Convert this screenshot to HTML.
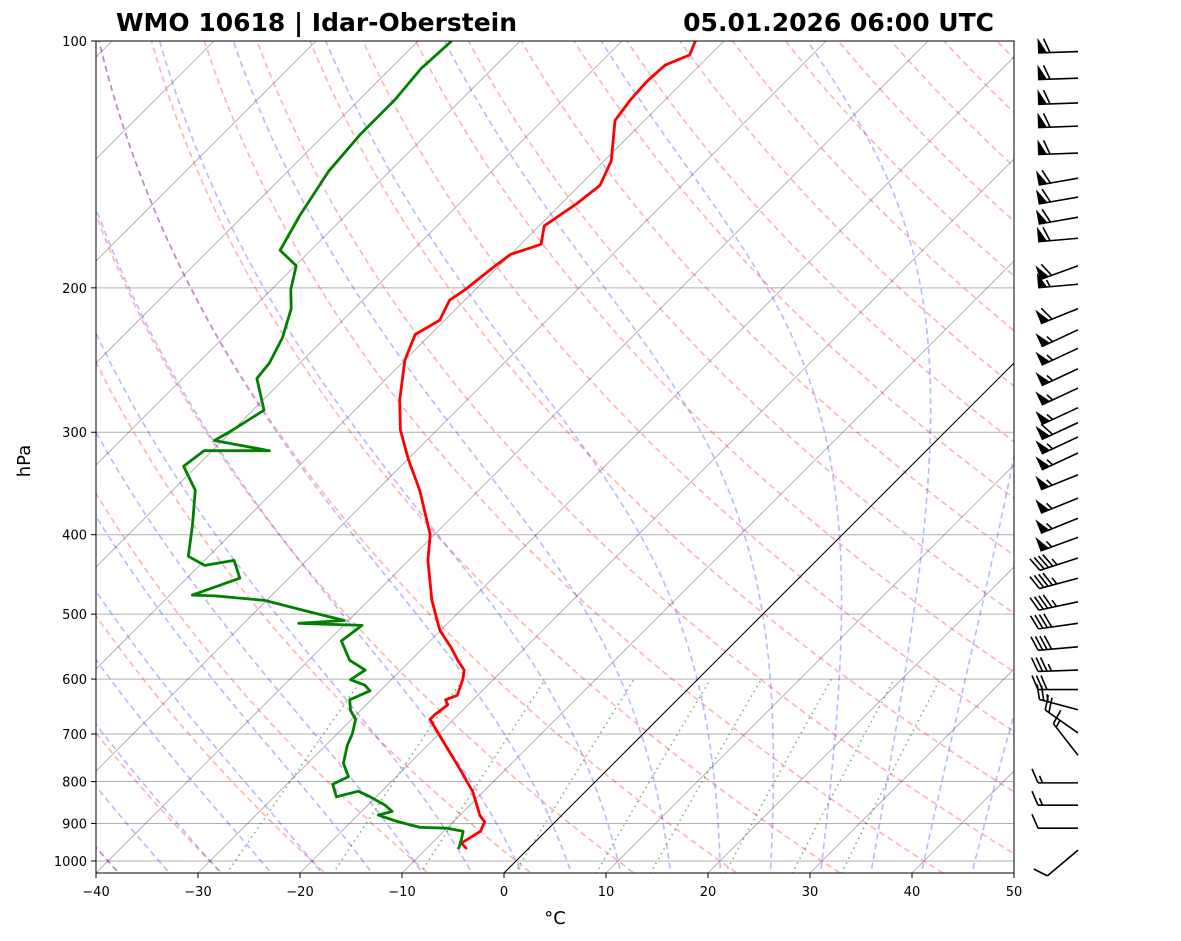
<!DOCTYPE html>
<html><head><meta charset="utf-8">
<style>
body{margin:0;background:#fff;}
svg{display:block;font-family:"DejaVu Sans","Liberation Sans",sans-serif;}
</style></head>
<body>
<svg id="chart" width="1181" height="941" viewBox="0 0 1181 941" xmlns="http://www.w3.org/2000/svg">
<defs><clipPath id="plotclip"><rect x="96" y="41" width="918" height="832"/></clipPath></defs>
<rect width="1181" height="941" fill="#fff"/>
<text x="116" y="31" font-size="25" font-weight="bold" textLength="401" lengthAdjust="spacingAndGlyphs">WMO 10618 | Idar-Oberstein</text>
<text x="994" y="31" font-size="25" font-weight="bold" text-anchor="end">05.01.2026 06:00 UTC</text>
<g id="bg" clip-path="url(#plotclip)"></g>
<g id="series" clip-path="url(#plotclip)"></g>
<rect x="96" y="41" width="918" height="832" fill="none" stroke="#000" stroke-width="1"/>
<g id="axes"></g>
<g id="barbs"></g>
<text x="0" y="0" transform="translate(30,461) rotate(-90)" font-size="18" text-anchor="middle">hPa</text>
<text x="555" y="924" font-size="18" text-anchor="middle">°C</text>
</svg>
<script>
// ---- data ----
const tempP = [967,951,920,896,880,855,822,806,774,722,672,663,645,636,628,601,585,569,550,523,481,430,400,353,324,298,274,245,228,219,207,201,190,182,177,168,158,150,140,125,118,112,107,104,100];
const tempT = [-6.0,-7.1,-6.4,-6.9,-8.0,-9.3,-11.1,-12.2,-14.4,-18.3,-22.3,-22.3,-22.0,-22.7,-22.0,-23.0,-23.8,-25.4,-27.2,-30.1,-33.8,-38.1,-40.4,-45.8,-49.9,-53.6,-56.6,-60.0,-61.5,-60.5,-61.5,-61.0,-60.5,-60.0,-58.0,-59.5,-58.5,-58.0,-59.3,-62.9,-63.4,-63.6,-63.4,-62.0,-62.8];
const dewP = [967,940,920,912,910,895,879,870,855,835,822,835,806,789,760,722,700,672,655,636,620,610,601,585,569,539,516,513,509,497,481,475,474,452,430,436,425,390,353,330,316,316,307,299,282,258,247,230,212,201,188,180,163,144,130,118,108,100];
const dewT = [-6.8,-7.5,-8.1,-10.0,-12.7,-15.5,-18.0,-17.0,-18.3,-20.6,-22.3,-23.9,-25.5,-24.7,-26.5,-27.9,-28.5,-29.6,-31.0,-32.1,-31.0,-32.1,-34.0,-33.5,-36.0,-38.7,-38.2,-44.6,-40.4,-44.6,-50.2,-55.5,-57.8,-54.8,-57.1,-59.5,-62.0,-64.6,-67.8,-71.3,-70.8,-64.4,-70.8,-70.1,-68.9,-72.7,-73.0,-74.2,-76.2,-78.1,-79.9,-83.0,-84.5,-86.0,-86.5,-86.5,-87.0,-86.7];
const barbP = [103,111,119,127,137,147,155,164,174,188,198,212,225,237,251,265,280,292,304,318,338,361,382,403,427,452,483,513,548,585,618,654,698,743,803,855,912,970];
const barbSpd = [60,60,60,60,60,60,60,60,60,60,55,60,55,55,55,55,55,60,55,55,55,55,55,55,45,45,45,40,40,35,30,25,20,15,15,15,10,10];
const barbDir = [268,268,268,268,268,260,260,260,265,250,265,248,245,245,245,245,245,245,245,245,248,248,248,250,252,255,258,262,265,268,270,285,305,322,270,270,270,230];
const xTicks = [-40,-30,-20,-10,0,10,20,30,40,50];
const yTicks = [100,200,300,400,500,600,700,800,900,1000];

// ---- scales ----
const X0=96, X1=1014, Ytop=41, Ybot=873;
const PXT=(X1-X0)/90;
function Y(p){return Ytop+820*Math.log10(p/100);}
function X(T,p){return X0+(T+40)*PXT+(Ybot-Y(p));}
const NS="http://www.w3.org/2000/svg";
function mk(tag,attrs,parent){const e=document.createElementNS(NS,tag);for(const k in attrs)e.setAttribute(k,attrs[k]);parent.appendChild(e);return e;}
function pathFrom(pts){return pts.map((q,i)=>(i?'L':'M')+q[0].toFixed(1)+' '+q[1].toFixed(1)).join(' ');}
const bg=document.getElementById('bg'), series=document.getElementById('series'), axes=document.getElementById('axes'), barbs=document.getElementById('barbs');

yTicks.forEach(p=>{
  const l=mk('line',{x1:X0,x2:X1,y1:Y(p),y2:Y(p),stroke:'#b0b0b0','stroke-width':1},bg);
  
  
});
for(let T=-160;T<=50;T+=10){
  const l=mk('line',{x1:X(T,1050),y1:Y(1050),x2:X(T,90),y2:Y(90),stroke:'rgba(0,0,0,0.35)','stroke-width':0.8},bg);
  
  
}
const pLevels=[];for(let p=1050;p>=98;p-=5)pLevels.push(p);
for(let t0=-50;t0<=200;t0+=10){
  const th=t0+273.15;
  const pts=pLevels.map(p=>[X(th*Math.pow(p/1000,0.2857)-273.15,p),Y(p)]);
  const e=mk('path',{d:pathFrom(pts),fill:'none',stroke:'rgba(255,0,0,0.3)','stroke-width':1.6,'stroke-dasharray':'6,4'},bg);
  
  
}
function es(T){return 6.112*Math.exp(17.67*T/(T+243.5));}
function dTdp(T,p){const Tk=T+273.15,e=es(T),rs=0.622*e/(p-e),Rd=287.04,Cp=1005.7,Lv=2.501e6;
  return (Rd*Tk+Lv*rs)/(p*(Cp+Lv*Lv*rs*0.622/(Rd*Tk*Tk)));}
for(let t0=-40;t0<=45;t0+=5){
  let up=[],T=t0;
  for(let p=1000;p>=98;p-=1){up.push([X(T,p),Y(p)]);T-=dTdp(T,p)*1;}
  let dn=[];T=t0;
  for(let p=1000;p<=1050;p+=1){dn.push([X(T,p),Y(p)]);T+=dTdp(T,p)*1;}
  const pts=dn.reverse().concat(up);
  const e=mk('path',{d:pathFrom(pts),fill:'none',stroke:'rgba(0,0,255,0.28)','stroke-width':1.6,'stroke-dasharray':'6,4'},bg);
  
  
}
[0.0004,0.001,0.002,0.004,0.007,0.01,0.016,0.024,0.032].forEach(w=>{
  const pts=[];
  for(let p=1050;p>=600;p-=10){const e=p*w/(0.622+w),l=Math.log(e/6.112);pts.push([X(243.5*l/(17.67-l),p),Y(p)]);}
  const e=mk('path',{d:pathFrom(pts),fill:'none',stroke:'rgba(0,128,0,0.55)','stroke-width':1.6,'stroke-dasharray':'1.5,4'},bg);
  
  
});
const zero=mk('line',{x1:X(0,1050),y1:Y(1050),x2:X(0,90),y2:Y(90),stroke:'#000','stroke-width':1},bg);



const tPath=mk('path',{d:pathFrom(tempP.map((p,i)=>[X(tempT[i],p),Y(p)])),fill:'none',stroke:'#f00','stroke-width':2.8,'stroke-linejoin':'round'},series);


const dPath=mk('path',{d:pathFrom(dewP.map((p,i)=>[X(dewT[i],p),Y(p)])),fill:'none',stroke:'#008000','stroke-width':2.8,'stroke-linejoin':'round'},series);



yTicks.forEach(p=>{
  const y=Y(p);
  const t=mk('line',{x1:X0-5,x2:X0,y1:y,y2:y,stroke:'#000'},axes);
  
  
  const tx=mk('text',{x:X0-9,y:y+5,'font-size':13,'text-anchor':'end'},axes);
  tx.textContent=p;
  
  
});
xTicks.forEach(T=>{
  const x=X0+(T+40)*PXT;
  const t=mk('line',{x1:x,x2:x,y1:Ybot,y2:Ybot+5,stroke:'#000'},axes);
  
  
  const tx=mk('text',{x:x,y:Ybot+23,'font-size':13,'text-anchor':'middle'},axes);
  tx.textContent=(T<0?'\u2212'+(-T):T);
  
  
});

barbP.forEach((p,i)=>{
  const ax=1078, ay=Y(p), d=barbDir[i]*Math.PI/180, L=40;
  const u=[Math.sin(d),-Math.cos(d)], n=[-u[1],u[0]];
  const g=mk('g',{},barbs);
  
  
  const tip=[ax+u[0]*L,ay+u[1]*L];
  mk('line',{x1:ax,y1:ay,x2:tip[0],y2:tip[1],stroke:'#000','stroke-width':1.6},g);
  let s=Math.round(barbSpd[i]/5)*5, pos=0;
  while(s>=50){
    const a=[tip[0]-u[0]*pos,tip[1]-u[1]*pos], b=[a[0]-u[0]*9,a[1]-u[1]*9], c=[a[0]+n[0]*15,a[1]+n[1]*15];
    mk('polygon',{points:[a,b,c].map(q=>q.join(',')).join(' '),fill:'#000'},g);
    pos+=12;s-=50;
  }
  if(pos===0&&s<10&&s>0)pos=4;
  while(s>=10){
    const a=[tip[0]-u[0]*pos,tip[1]-u[1]*pos];
    mk('line',{x1:a[0],y1:a[1],x2:a[0]+n[0]*14+u[0]*6,y2:a[1]+n[1]*14+u[1]*6,stroke:'#000','stroke-width':1.6},g);
    pos+=4.5;s-=10;
  }
  if(s>=5){
    const a=[tip[0]-u[0]*pos,tip[1]-u[1]*pos];
    mk('line',{x1:a[0],y1:a[1],x2:a[0]+n[0]*7+u[0]*3,y2:a[1]+n[1]*7+u[1]*3,stroke:'#000','stroke-width':1.6},g);
  }
});
</script>
</body></html>
